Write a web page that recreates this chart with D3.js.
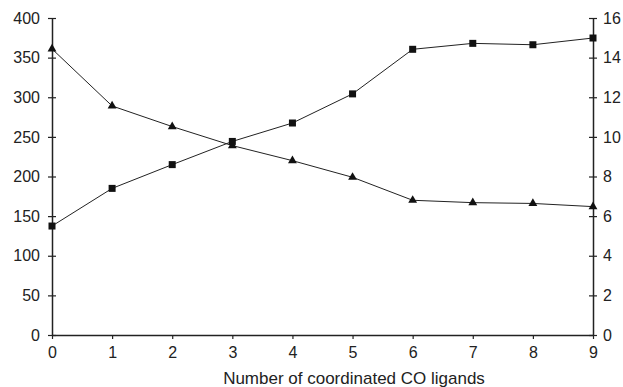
<!DOCTYPE html>
<html>
<head>
<meta charset="utf-8">
<script src="https://cdn.jsdelivr.net/npm/d3@7"></script>
<style>
  body { margin: 0; background: #fff; }
  text { font-family: "Liberation Sans", Arial, sans-serif; fill: #222; }
</style>
</head>
<body>
<script>
// number of coordinated CO ligands
var ligands = [0, 1, 2, 3, 4, 5, 6, 7, 8, 9];
// triangles, left axis
var leftSeries = [361, 289, 263, 239, 220, 199, 170, 167, 166, 162];
// squares, right axis
var rightSeries = [5.5, 7.4, 8.6, 9.77, 10.7, 12.17, 14.42, 14.72, 14.65, 14.99];
var leftTicks = [0, 50, 100, 150, 200, 250, 300, 350, 400];
var rightTicks = [0, 2, 4, 6, 8, 10, 12, 14, 16];
var xLabel = "Number of coordinated CO ligands";

var width = 623, height = 387;
var margin = {top: 18, right: 30, bottom: 52, left: 52};

var svg = d3.select("body").append("svg")
  .attr("width", width)
  .attr("height", height);

var x = d3.scaleLinear().domain([0, 9]).range([margin.left, width - margin.right]);
var yL = d3.scaleLinear().domain([0, 400]).range([height - margin.bottom, margin.top]);
var yR = d3.scaleLinear().domain([0, 16]).range([height - margin.bottom, margin.top]);

function styleAxis(g) {
  g.select(".domain").attr("stroke", "#222").attr("stroke-width", 1.5);
  g.selectAll(".tick line").attr("stroke", "#222").attr("stroke-width", 1.2);
  g.selectAll(".tick text").style("font-size", "16px").attr("fill", "#222");
}

// left axis, ticks crossing the line
var gl = svg.append("g")
  .attr("transform", "translate(" + margin.left + ",0)")
  .call(d3.axisLeft(yL).tickValues(leftTicks).tickSizeInner(4).tickSizeOuter(0).tickPadding(8));
styleAxis(gl);
gl.selectAll(".tick line").attr("x2", 4).attr("x1", -4);

var gr = svg.append("g")
  .attr("transform", "translate(" + (width - margin.right) + ",0)")
  .call(d3.axisRight(yR).tickValues(rightTicks).tickSizeInner(4).tickSizeOuter(0).tickPadding(6));
styleAxis(gr);
gr.selectAll(".tick line").attr("x1", -4).attr("x2", 4);

var gx = svg.append("g")
  .attr("transform", "translate(0," + (height - margin.bottom) + ")")
  .call(d3.axisBottom(x).tickValues(ligands).tickSizeInner(4).tickSizeOuter(0).tickPadding(8));
styleAxis(gx);

svg.append("text")
  .attr("x", 354)
  .attr("y", 384)
  .attr("text-anchor", "middle")
  .style("font-size", "17px")
  .text(xLabel);

var lineL = d3.line().x(function(d, i) { return x(ligands[i]); }).y(function(d) { return yL(d); });
var lineR = d3.line().x(function(d, i) { return x(ligands[i]); }).y(function(d) { return yR(d); });

svg.append("path").datum(leftSeries)
  .attr("d", lineL).attr("fill", "none").attr("stroke", "#222").attr("stroke-width", 1);
svg.append("path").datum(rightSeries)
  .attr("d", lineR).attr("fill", "none").attr("stroke", "#222").attr("stroke-width", 1);

svg.selectAll(".tri").data(leftSeries).enter().append("path")
  .attr("class", "tri")
  .attr("d", d3.symbol().type(d3.symbolTriangle).size(34))
  .attr("transform", function(d, i) { return "translate(" + x(ligands[i]) + "," + yL(d) + ")"; })
  .attr("fill", "#111");

svg.selectAll(".sq").data(rightSeries).enter().append("rect")
  .attr("class", "sq")
  .attr("x", function(d, i) { return x(ligands[i]) - 3.5; })
  .attr("y", function(d) { return yR(d) - 3.5; })
  .attr("width", 7).attr("height", 7)
  .attr("fill", "#111");
</script>
</body>
</html>
